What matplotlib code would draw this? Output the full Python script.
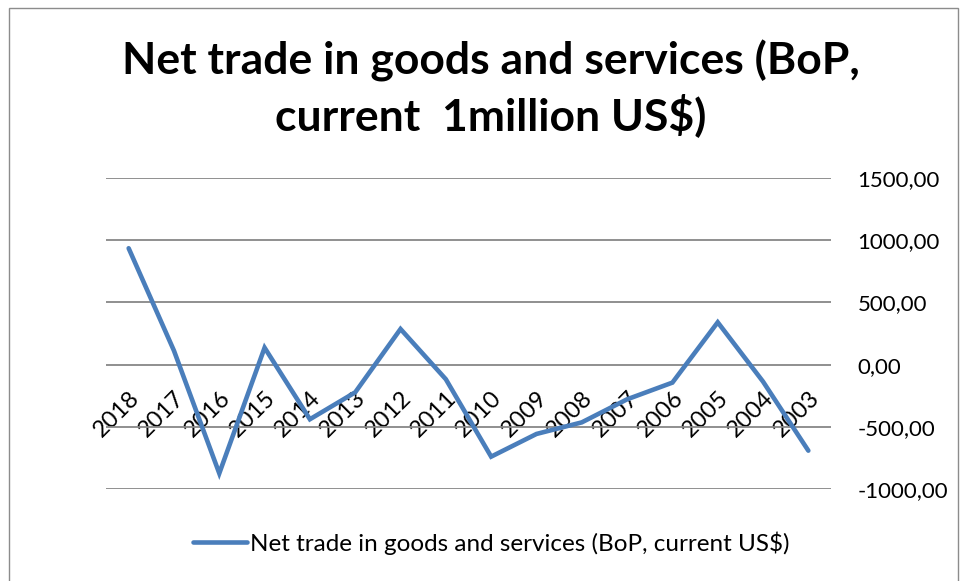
import numpy as np
import matplotlib
matplotlib.use('Agg')
import matplotlib.pyplot as plt
from matplotlib.patches import Rectangle
from matplotlib.ticker import FuncFormatter

# -----------------------------------------------------------------------
# Data (net trade, million US$)
# -----------------------------------------------------------------------
YEARS = ['2018', '2017', '2016', '2015', '2014', '2013', '2012', '2011',
         '2010', '2009', '2008', '2007', '2006', '2005', '2004', '2003']
NET_TRADE = [934, 112, -872, 136, -438, -222, 286, -117,
             -738, -556, -463, -278, -144, 340, -136, -690]

TITLE = 'Net trade in goods and services (BoP,\ncurrent  1million US$)'
SERIES_LABEL = 'Net trade in goods and services (BoP, current US$)'
LINE_COLOR = '#4A7EBB'
GRID_COLOR = '#878787'

plt.rcParams['font.family'] = ['Lato', 'DejaVu Sans']

fig = plt.figure(figsize=(9.61, 5.81), dpi=100)
fig.patches.append(Rectangle((9 / 961, -0.1), 949 / 961, 1.1 - 8 / 581,
                             transform=fig.transFigure, fill=False,
                             edgecolor='#8c8c8c', lw=1.0))

ax = fig.add_axes([106 / 961, 1 - 489.3 / 581, 725 / 961, (489.3 - 177.7) / 581])

x = np.arange(len(YEARS))
ax.plot(x, NET_TRADE, color=LINE_COLOR, lw=3.3, solid_joinstyle='miter',
        solid_capstyle='round', label=SERIES_LABEL)

ax.set_xlim(-0.5, len(YEARS) - 0.5)
ax.set_ylim(-1000, 1500)
ax.set_yticks(np.arange(-1000, 1501, 500))
ax.yaxis.set_major_formatter(FuncFormatter(lambda v, _: f'{v:.2f}'.replace('.', ',')))
ax.yaxis.tick_right()
ax.tick_params(axis='y', length=0, pad=19, labelsize=16)
ax.grid(axis='y', color=GRID_COLOR, lw=1.3)
ax.set_axisbelow(True)

# category labels hang from the zero line
ax.spines['bottom'].set_position(('data', 0))
ax.set_xticks(x)
ax.set_xticklabels(YEARS, rotation=45, ha='right', rotation_mode='anchor', fontsize=17)
ax.tick_params(axis='x', length=0, pad=16)
for side in ['top', 'left', 'right', 'bottom']:
    ax.spines[side].set_visible(False)

fig.text(0.511, 1 - 88 / 581, TITLE, ha='center', va='center', fontsize=32,
         fontweight='bold', linespacing=1.3)

fig.legend(loc='center', bbox_to_anchor=(0.5115, 1 - 543 / 581), frameon=False,
           fontsize=17.5, handlelength=2.2, handletextpad=0.15)

fig.savefig('out.png', dpi=100)
